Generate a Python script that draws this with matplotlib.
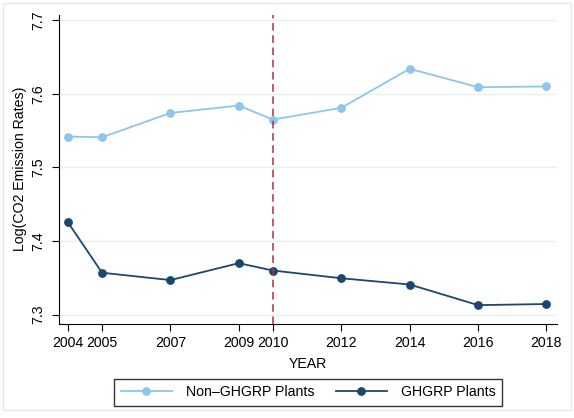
import matplotlib
matplotlib.use("Agg")
import matplotlib.pyplot as plt
from matplotlib.patches import Rectangle

plt.rcParams['font.family'] = ['Liberation Sans', 'DejaVu Sans']

years = [2004, 2005, 2007, 2009, 2010, 2012, 2014, 2016, 2018]
non_ghgrp = [7.542, 7.541, 7.574, 7.584, 7.565, 7.581, 7.634, 7.609, 7.610]
ghgrp = [7.4255, 7.357, 7.347, 7.370, 7.360, 7.3495, 7.341, 7.313, 7.3145]
yticks = [7.3, 7.4, 7.5, 7.6, 7.7]

light = '#8cc6ec'
navy = '#1a476f'

fig = plt.figure(figsize=(5.74, 4.18), dpi=100)
fig.patches.append(Rectangle((0.006, 0.02), 0.988, 0.972, transform=fig.transFigure,
                             fill=False, edgecolor='#e4e8ea', linewidth=1))
ax = fig.add_axes([0.1028, 0.226, 0.867, 0.738])

ax.plot(years, non_ghgrp, color=light, marker='o', markersize=5.3, linewidth=1.3,
        label='Non\u2013GHGRP Plants')
ax.plot(years, ghgrp, color=navy, marker='o', markersize=5.3, linewidth=1.3,
        label='GHGRP Plants')
ax.axvline(2010, color='#b0303a', linestyle=(0, (5, 3)), linewidth=1.1)

ax.set_xlim(2003.74, 2018.30)
ax.set_ylim(7.288, 7.707)
ax.set_xticks(years)
ax.set_yticks(yticks)
ax.set_yticklabels([f'{v:.1f}' for v in yticks], rotation=90, va='center')
ax.grid(axis='y', color='#e8f0f2', linewidth=1)
ax.set_axisbelow(True)
for s in ['top', 'right']:
    ax.spines[s].set_visible(False)
ax.tick_params(direction='out', length=5, labelsize=10.2, colors='black')
ax.tick_params(axis='x', pad=4)
ax.tick_params(axis='y', pad=5)
ax.set_xlabel('YEAR', fontsize=10.2, labelpad=5)
ax.set_ylabel('Log(CO2 Emission Rates)', fontsize=10.2, labelpad=3)

leg = fig.legend(loc='center', bbox_to_anchor=(0.5366, 0.0615), ncol=2, fontsize=10.2,
                 frameon=True, fancybox=False, edgecolor='black', handlelength=3.6,
                 handletextpad=1.0, columnspacing=1.5, borderpad=0.45,
                 borderaxespad=0)
leg.get_frame().set_linewidth(1)

fig.savefig('out.png', dpi=100)
